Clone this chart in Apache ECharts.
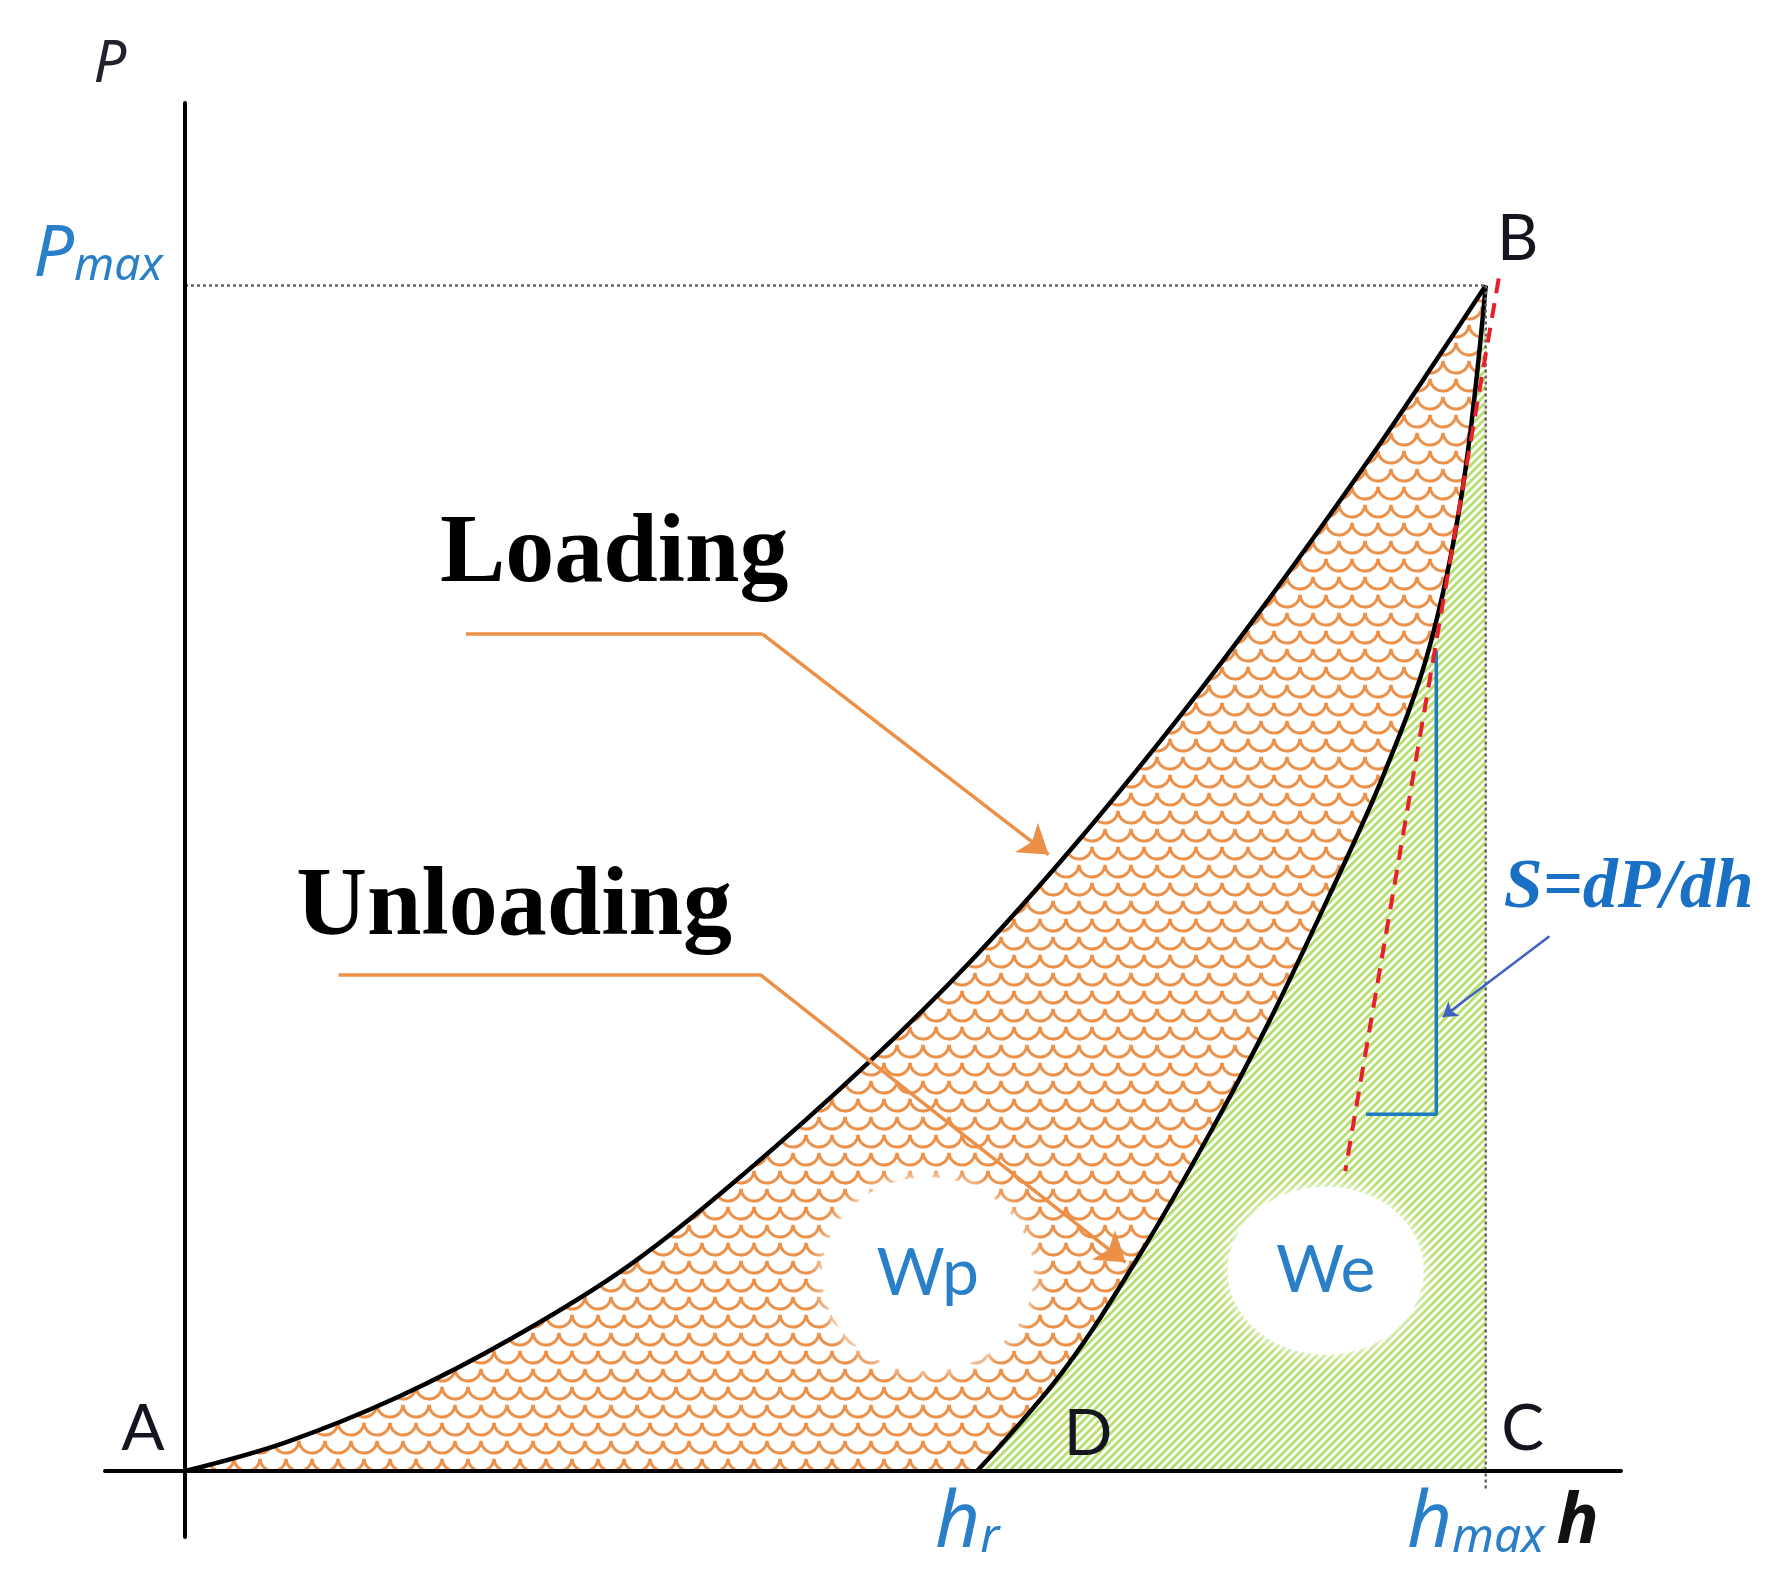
<!DOCTYPE html>
<html>
<head>
<meta charset="utf-8">
<script src="https://cdn.jsdelivr.net/npm/echarts@6/dist/echarts.min.js"></script>
<style>html,body{margin:0;padding:0;background:#fff;}#c{width:1792px;height:1582px;}</style>
</head>
<body>
<div id="c"></div>
<script>
// ---- data (normalised: h in units of hmax, P in units of Pmax) ----
const loadH   = [0, 0.077, 0.165, 0.253, 0.341, 0.429, 0.525, 0.605, 0.684, 0.763, 0.833, 0.912, 0.965, 1.0];
const loadP   = [0, 0.024, 0.063, 0.113, 0.173, 0.250, 0.344, 0.431, 0.528, 0.634, 0.735, 0.856, 0.942, 1.0];
const unloadH = [0.609, 0.675, 0.736, 0.789, 0.833, 0.877, 0.921, 0.956, 0.982, 1.0];
const unloadP = [0, 0.084, 0.186, 0.287, 0.378, 0.479, 0.586, 0.692, 0.827, 1.0];
const hr = 0.609, hmax = 1.0, Pmax = 1.0;
const tangentLine = [[1.01, 1.006], [0.892, 0.253]];
const slopeTriangle = [[0.962, 0.692], [0.962, 0.301], [0.908, 0.301]];
const loadingLeader = [[0.216, 0.706], [0.444, 0.706], [0.664, 0.520]];
const unloadingLeader = [[0.118, 0.419], [0.442, 0.419], [0.723, 0.176]];
const stiffnessPointer = [[1.049, 0.451], [0.967, 0.383]];
// tick labels (main letter + subscript)
const xTickValues = [hr, hmax];
const xTickMain = ['h', 'h'];
const xTickSubs = ['r', 'max'];
const yTickValues = [Pmax];
const yTickMain = ['P'];
const yTickSubs = ['max'];
const xAxisName = 'h', yAxisName = 'P';
const pointNames = ['A', 'B', 'C', 'D'];
const pointCoords = [[0, 0], [1, 1], [1, 0], [hr, 0]];
const workNames = ['Wp', 'We'];
const workCoords = [[0.571, 0.166], [0.877, 0.169]];
const curveNames = ['Loading', 'Unloading'];
const curveNameCoords = [[0.33, 0.772], [0.253, 0.474]];
const stiffnessText = 'S=dP/dh';
const stiffnessTextCoord = [1.11, 0.491];

// ---- patterns ----
function scalePattern() {
  const w = 26, h = 36;
  const c = document.createElement('canvas');
  c.width = w; c.height = h;
  const g = c.getContext('2d');
  g.fillStyle = '#ffffff'; g.fillRect(0, 0, w, h);
  g.strokeStyle = '#EC914A'; g.lineWidth = 3;
  const rows = [[0, 0], [18, w / 2], [36, 0]];
  rows.forEach(([y, off]) => {
    for (let x = off - w; x <= 2 * w; x += w) {
      g.beginPath(); g.arc(x, y, w / 2, 0.02 * Math.PI, 0.98 * Math.PI); g.stroke();
    }
  });
  return c;
}
function stripePattern() {
  const s = 8;
  const c = document.createElement('canvas');
  c.width = s; c.height = s;
  const g = c.getContext('2d');
  g.fillStyle = '#ffffff'; g.fillRect(0, 0, s, s);
  g.strokeStyle = '#B6E06E'; g.lineWidth = 2.8;
  [[0, s, s, 0], [-s / 2, s / 2, s / 2, -s / 2], [s / 2, s * 1.5, s * 1.5, s / 2]].forEach(l => {
    g.beginPath(); g.moveTo(l[0], l[1]); g.lineTo(l[2], l[3]); g.stroke();
  });
  return c;
}

const zip = (a, b) => a.map((v, i) => [v, b[i]]);
const blue = '#2A80C8';
const orange = '#EC9048';
const hidden = { color: 'rgba(0,0,0,0)', opacity: 1 };
const subRich = (main, sub, color, weight) => ({
  m: { fontFamily: 'Noto Sans', fontStyle: 'italic', fontWeight: weight || 'normal', fontSize: main, lineHeight: main, color: color, verticalAlign: 'bottom' },
  s: { fontFamily: 'Noto Sans', fontStyle: 'italic', fontSize: sub, lineHeight: sub, color: color, verticalAlign: 'bottom', padding: [0, 0, 2, 0] }
});

// annotation texts anchored at data points, shifted in pixels
const annotations = [];
yTickValues.forEach((v, i) => annotations.push({ value: [0, v], text: '{m|' + yTickMain[i] + '}{s|' + yTickSubs[i] + '}', rich: subRich(72, 46, blue), off: [-87, -30] }));
xTickValues.forEach((v, i) => annotations.push({ value: [v, 0], text: '{m|' + xTickMain[i] + '}{s|' + xTickSubs[i] + '}', rich: subRich(78, 48, blue), off: [-10, 54] }));
annotations.push({ value: [hmax, 0], text: '{m|' + xAxisName + '}', rich: subRich(70, 40, '#111', 'bold'), off: [92, 52] });
annotations.push({ value: [0, 1.154], text: '{m|' + yAxisName + '}', rich: subRich(58, 40, '#22222e'), off: [-75, -38] });
const pointOffsets = { A: [-42, -42], B: [32, -46], C: [37, -42], D: [111, -37] };
const centerAt = (o) => p => ({ x: p.rect.x + p.rect.width / 2 + o[0], y: p.rect.y + p.rect.height / 2 + o[1], align: 'center', verticalAlign: 'middle' });

const chart = echarts.init(document.getElementById('c'), null, { renderer: 'canvas' });
chart.setOption({
  animation: false,
  backgroundColor: '#ffffff',
  grid: { left: 105, right: 171, top: 103, bottom: 45, containLabel: false, outerBoundsMode: 'none' },
  xAxis: {
    type: 'value', min: -0.0615, max: 1.104, z: 10,
    axisLine: { onZero: true, lineStyle: { color: '#000', width: 4 } },
    axisTick: { show: false }, splitLine: { show: false }, axisLabel: { show: false }
  },
  yAxis: {
    type: 'value', min: -0.0557, max: 1.154, z: 10,
    axisLine: { onZero: true, lineStyle: { color: '#000', width: 4 } },
    axisTick: { show: false }, splitLine: { show: false }, axisLabel: { show: false }
  },
  series: [
    {
      type: 'line', name: 'Loading', data: zip(loadH, loadP), smooth: 0.35, showSymbol: false, z: 1,
      lineStyle: { color: '#000', width: 4.5 },
      areaStyle: { color: { image: scalePattern(), repeat: 'repeat' }, opacity: 1 }
    },
    {
      type: 'line', name: 'Unloading', data: zip(unloadH, unloadP), smooth: 0.35, showSymbol: false, z: 2,
      lineStyle: { color: '#000', width: 4.5 },
      areaStyle: { color: { image: stripePattern(), repeat: 'repeat' }, opacity: 1 }
    },
    {
      type: 'scatter', z: 3, clip: false, silent: true,
      data: workCoords.map((c, i) => ({ value: c, name: workNames[i], symbolSize: i === 0 ? [212, 194] : [196, 168] })),
      symbol: 'circle',
      itemStyle: { color: '#ffffff', opacity: 1, shadowBlur: 16, shadowColor: '#ffffff' },
      label: { show: true, position: [0, 0], formatter: '{b}', fontFamily: 'Lato', fontSize: 66, color: blue },
      labelLayout: centerAt([0, 0])
    },
    {
      type: 'line', data: [[0, Pmax], [hmax, Pmax]], showSymbol: false, z: 4,
      lineStyle: { color: '#666', width: 2.5, type: [3, 3] }
    },
    {
      type: 'line', data: [[hmax, Pmax], [hmax, -0.015]], showSymbol: false, z: 4, clip: false,
      lineStyle: { color: '#666', width: 2.5, type: [3, 3] }
    },
    {
      type: 'line', data: tangentLine, showSymbol: false, z: 6, clip: false,
      lineStyle: { color: '#E8202A', width: 4, type: [15, 10] }
    },
    {
      type: 'line', data: slopeTriangle, showSymbol: false, z: 5,
      lineStyle: { color: '#1E7BC0', width: 3.5 }
    },
    {
      type: 'lines', coordinateSystem: 'cartesian2d', z: 7,
      symbol: ['none', 'none'],
      lineStyle: { color: orange, width: 3.5, opacity: 1 },
      data: [{ coords: loadingLeader.slice(0, 2) }, { coords: unloadingLeader.slice(0, 2) }]
    },
    {
      type: 'lines', coordinateSystem: 'cartesian2d', z: 7,
      symbol: ['none', 'arrow'], symbolSize: 28,
      lineStyle: { color: orange, width: 3.5, opacity: 1 },
      data: [{ coords: loadingLeader.slice(1) }, { coords: unloadingLeader.slice(1) }]
    },
    {
      type: 'lines', coordinateSystem: 'cartesian2d', z: 7,
      symbol: ['none', 'arrow'], symbolSize: 14,
      lineStyle: { color: '#3F5FC2', width: 2.5, opacity: 1 },
      data: [{ coords: stiffnessPointer }]
    },
    {
      type: 'scatter', z: 8, clip: false, silent: true, symbolSize: 1, itemStyle: hidden,
      data: pointCoords.map((c, i) => ({ value: c, name: pointNames[i] })),
      label: { show: true, position: [0, 0], formatter: '{b}', fontFamily: 'Lato', fontSize: 64, color: '#15151f' },
      labelLayout: p => centerAt(pointOffsets[p.text] || [0, 0])(p)
    },
    {
      type: 'scatter', z: 8, clip: false, silent: true, symbolSize: 1, itemStyle: hidden,
      data: annotations.map(a => ({ value: a.value, label: { formatter: a.text, rich: a.rich } })),
      label: { show: true, position: [0, 0] },
      labelLayout: p => centerAt(annotations[p.dataIndex].off)(p)
    },
    {
      type: 'scatter', z: 8, clip: false, silent: true, symbolSize: 1, itemStyle: hidden,
      data: curveNameCoords.map((c, i) => ({ value: c, name: curveNames[i] })),
      label: { show: true, position: [0, 0], formatter: '{b}', fontFamily: 'Liberation Serif', fontWeight: 'bold', fontSize: 98, color: '#000' },
      labelLayout: centerAt([0, 0])
    },
    {
      type: 'scatter', z: 8, clip: false, silent: true, symbolSize: 1, itemStyle: hidden,
      data: [{ value: stiffnessTextCoord, name: stiffnessText }],
      label: { show: true, position: [0, 0], formatter: '{b}', fontFamily: 'Liberation Serif', fontStyle: 'italic', fontWeight: 'bold', fontSize: 70, color: '#1A70C4' },
      labelLayout: centerAt([0, 0])
    }
  ]
});
</script>
</body>
</html>
